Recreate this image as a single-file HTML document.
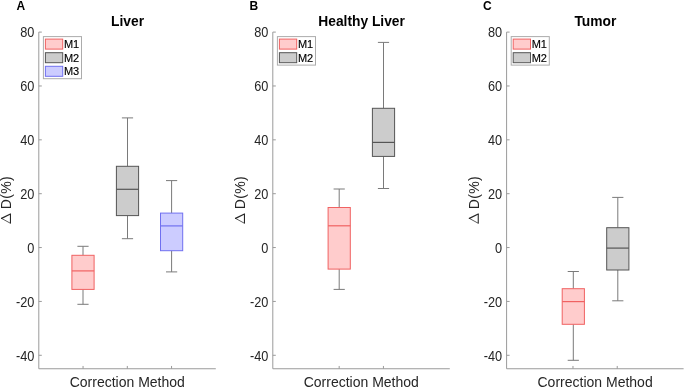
<!DOCTYPE html><html><head><meta charset="utf-8"><style>
html,body{margin:0;padding:0;background:#fff;width:685px;height:388px;overflow:hidden}
svg{display:block}
text{font-family:"Liberation Sans",sans-serif}
svg{will-change:transform}
</style></head><body>
<svg width="685" height="388" viewBox="0 0 685 388">
<rect width="685" height="388" fill="#fff"/>
<line x1="83.00" y1="246.30" x2="83.00" y2="255.30" stroke="#7a7a7a" stroke-width="1"/>
<line x1="83.00" y1="289.40" x2="83.00" y2="304.30" stroke="#7a7a7a" stroke-width="1"/>
<line x1="77.40" y1="246.30" x2="88.60" y2="246.30" stroke="#7a7a7a" stroke-width="1"/>
<line x1="77.40" y1="304.30" x2="88.60" y2="304.30" stroke="#7a7a7a" stroke-width="1"/>
<rect x="71.90" y="255.30" width="22.20" height="34.10" fill="#ffcccc" stroke="#f06262" stroke-width="1"/>
<line x1="71.90" y1="270.90" x2="94.10" y2="270.90" stroke="#f06262" stroke-width="1.2"/>
<line x1="127.50" y1="117.90" x2="127.50" y2="166.30" stroke="#7a7a7a" stroke-width="1"/>
<line x1="127.50" y1="215.60" x2="127.50" y2="238.70" stroke="#7a7a7a" stroke-width="1"/>
<line x1="121.90" y1="117.90" x2="133.10" y2="117.90" stroke="#7a7a7a" stroke-width="1"/>
<line x1="121.90" y1="238.70" x2="133.10" y2="238.70" stroke="#7a7a7a" stroke-width="1"/>
<rect x="116.40" y="166.30" width="22.20" height="49.30" fill="#cccccc" stroke="#555555" stroke-width="1"/>
<line x1="116.40" y1="189.30" x2="138.60" y2="189.30" stroke="#555555" stroke-width="1.2"/>
<line x1="171.60" y1="180.60" x2="171.60" y2="213.10" stroke="#7a7a7a" stroke-width="1"/>
<line x1="171.60" y1="250.70" x2="171.60" y2="271.90" stroke="#7a7a7a" stroke-width="1"/>
<line x1="166.00" y1="180.60" x2="177.20" y2="180.60" stroke="#7a7a7a" stroke-width="1"/>
<line x1="166.00" y1="271.90" x2="177.20" y2="271.90" stroke="#7a7a7a" stroke-width="1"/>
<rect x="160.50" y="213.10" width="22.20" height="37.60" fill="#ccccff" stroke="#7070f0" stroke-width="1"/>
<line x1="160.50" y1="225.90" x2="182.70" y2="225.90" stroke="#7070f0" stroke-width="1.2"/>
<path d="M38.80 32.10 V368.76 H215.80" fill="none" stroke="#9a9a9a" stroke-width="1"/>
<line x1="38.80" y1="32.10" x2="41.80" y2="32.10" stroke="#9a9a9a" stroke-width="1"/>
<text transform="translate(34.30 36.50) scale(0.91 1)" font-size="14" fill="#262626" text-anchor="end">80</text>
<line x1="38.80" y1="85.97" x2="41.80" y2="85.97" stroke="#9a9a9a" stroke-width="1"/>
<text transform="translate(34.30 90.53) scale(0.91 1)" font-size="14" fill="#262626" text-anchor="end">60</text>
<line x1="38.80" y1="139.83" x2="41.80" y2="139.83" stroke="#9a9a9a" stroke-width="1"/>
<text transform="translate(34.30 144.56) scale(0.91 1)" font-size="14" fill="#262626" text-anchor="end">40</text>
<line x1="38.80" y1="193.70" x2="41.80" y2="193.70" stroke="#9a9a9a" stroke-width="1"/>
<text transform="translate(34.30 198.59) scale(0.91 1)" font-size="14" fill="#262626" text-anchor="end">20</text>
<line x1="38.80" y1="247.56" x2="41.80" y2="247.56" stroke="#9a9a9a" stroke-width="1"/>
<text transform="translate(34.30 252.62) scale(0.91 1)" font-size="14" fill="#262626" text-anchor="end">0</text>
<line x1="38.80" y1="301.43" x2="41.80" y2="301.43" stroke="#9a9a9a" stroke-width="1"/>
<text transform="translate(34.30 306.65) scale(0.91 1)" font-size="14" fill="#262626" text-anchor="end">-20</text>
<line x1="38.80" y1="355.29" x2="41.80" y2="355.29" stroke="#9a9a9a" stroke-width="1"/>
<text transform="translate(34.30 360.68) scale(0.91 1)" font-size="14" fill="#262626" text-anchor="end">-40</text>
<line x1="83.05" y1="368.76" x2="83.05" y2="365.96" stroke="#9a9a9a" stroke-width="1"/>
<line x1="127.30" y1="368.76" x2="127.30" y2="365.96" stroke="#9a9a9a" stroke-width="1"/>
<line x1="171.55" y1="368.76" x2="171.55" y2="365.96" stroke="#9a9a9a" stroke-width="1"/>
<text x="127.30" y="387.20" font-size="14" fill="#262626" text-anchor="middle">Correction Method</text>
<text x="127.60" y="26.30" font-size="13.8" font-weight="bold" fill="#000" text-anchor="middle">Liver</text>
<text x="16.60" y="9.90" font-size="12" font-weight="bold" fill="#000">A</text>
<text transform="translate(11.00 209.20) rotate(-90)" font-size="14" letter-spacing="0.3" fill="#262626">D(%)</text>
<path d="M10.45 214.0 V223.3" stroke="#262626" stroke-width="1.1" fill="none"/>
<path d="M1.55 218.4 L10.45 214.0" stroke="#262626" stroke-width="1.2" fill="none" stroke-linecap="round"/>
<path d="M1.55 218.4 L10.45 223.3" stroke="#262626" stroke-width="0.75" fill="none" stroke-linecap="round"/>
<rect x="43.40" y="36.60" width="38.10" height="42.10" fill="#fff" stroke="#acacac" stroke-width="1"/>
<rect x="45.40" y="39.10" width="17.30" height="10.00" fill="#ffcccc" stroke="#f06262" stroke-width="1"/>
<text x="63.90" y="48.00" font-size="11" fill="#000" stroke="#000" stroke-width="0.15">M1</text>
<rect x="45.40" y="52.70" width="17.30" height="10.00" fill="#cccccc" stroke="#555555" stroke-width="1"/>
<text x="63.90" y="61.60" font-size="11" fill="#000" stroke="#000" stroke-width="0.15">M2</text>
<rect x="45.40" y="66.30" width="17.30" height="10.00" fill="#ccccff" stroke="#7070f0" stroke-width="1"/>
<text x="63.90" y="75.20" font-size="11" fill="#000" stroke="#000" stroke-width="0.15">M3</text>
<line x1="339.20" y1="189.00" x2="339.20" y2="207.50" stroke="#7a7a7a" stroke-width="1"/>
<line x1="339.20" y1="269.10" x2="339.20" y2="289.40" stroke="#7a7a7a" stroke-width="1"/>
<line x1="333.60" y1="189.00" x2="344.80" y2="189.00" stroke="#7a7a7a" stroke-width="1"/>
<line x1="333.60" y1="289.40" x2="344.80" y2="289.40" stroke="#7a7a7a" stroke-width="1"/>
<rect x="328.10" y="207.50" width="22.20" height="61.60" fill="#ffcccc" stroke="#f06262" stroke-width="1"/>
<line x1="328.10" y1="225.80" x2="350.30" y2="225.80" stroke="#f06262" stroke-width="1.2"/>
<line x1="383.50" y1="42.40" x2="383.50" y2="108.30" stroke="#7a7a7a" stroke-width="1"/>
<line x1="383.50" y1="156.40" x2="383.50" y2="188.50" stroke="#7a7a7a" stroke-width="1"/>
<line x1="377.90" y1="42.40" x2="389.10" y2="42.40" stroke="#7a7a7a" stroke-width="1"/>
<line x1="377.90" y1="188.50" x2="389.10" y2="188.50" stroke="#7a7a7a" stroke-width="1"/>
<rect x="372.40" y="108.30" width="22.20" height="48.10" fill="#cccccc" stroke="#555555" stroke-width="1"/>
<line x1="372.40" y1="142.40" x2="394.60" y2="142.40" stroke="#555555" stroke-width="1.2"/>
<path d="M272.80 32.10 V368.76 H449.80" fill="none" stroke="#9a9a9a" stroke-width="1"/>
<line x1="272.80" y1="32.10" x2="275.80" y2="32.10" stroke="#9a9a9a" stroke-width="1"/>
<text transform="translate(268.30 36.50) scale(0.91 1)" font-size="14" fill="#262626" text-anchor="end">80</text>
<line x1="272.80" y1="85.97" x2="275.80" y2="85.97" stroke="#9a9a9a" stroke-width="1"/>
<text transform="translate(268.30 90.53) scale(0.91 1)" font-size="14" fill="#262626" text-anchor="end">60</text>
<line x1="272.80" y1="139.83" x2="275.80" y2="139.83" stroke="#9a9a9a" stroke-width="1"/>
<text transform="translate(268.30 144.56) scale(0.91 1)" font-size="14" fill="#262626" text-anchor="end">40</text>
<line x1="272.80" y1="193.70" x2="275.80" y2="193.70" stroke="#9a9a9a" stroke-width="1"/>
<text transform="translate(268.30 198.59) scale(0.91 1)" font-size="14" fill="#262626" text-anchor="end">20</text>
<line x1="272.80" y1="247.56" x2="275.80" y2="247.56" stroke="#9a9a9a" stroke-width="1"/>
<text transform="translate(268.30 252.62) scale(0.91 1)" font-size="14" fill="#262626" text-anchor="end">0</text>
<line x1="272.80" y1="301.43" x2="275.80" y2="301.43" stroke="#9a9a9a" stroke-width="1"/>
<text transform="translate(268.30 306.65) scale(0.91 1)" font-size="14" fill="#262626" text-anchor="end">-20</text>
<line x1="272.80" y1="355.29" x2="275.80" y2="355.29" stroke="#9a9a9a" stroke-width="1"/>
<text transform="translate(268.30 360.68) scale(0.91 1)" font-size="14" fill="#262626" text-anchor="end">-40</text>
<line x1="339.18" y1="368.76" x2="339.18" y2="365.96" stroke="#9a9a9a" stroke-width="1"/>
<line x1="383.43" y1="368.76" x2="383.43" y2="365.96" stroke="#9a9a9a" stroke-width="1"/>
<text x="361.30" y="387.20" font-size="14" fill="#262626" text-anchor="middle">Correction Method</text>
<text x="361.60" y="26.30" font-size="13.8" font-weight="bold" fill="#000" text-anchor="middle">Healthy Liver</text>
<text x="249.60" y="9.90" font-size="12" font-weight="bold" fill="#000">B</text>
<text transform="translate(245.00 209.20) rotate(-90)" font-size="14" letter-spacing="0.3" fill="#262626">D(%)</text>
<path d="M244.45 214.0 V223.3" stroke="#262626" stroke-width="1.1" fill="none"/>
<path d="M235.55 218.4 L244.45 214.0" stroke="#262626" stroke-width="1.2" fill="none" stroke-linecap="round"/>
<path d="M235.55 218.4 L244.45 223.3" stroke="#262626" stroke-width="0.75" fill="none" stroke-linecap="round"/>
<rect x="277.40" y="36.60" width="38.10" height="28.50" fill="#fff" stroke="#acacac" stroke-width="1"/>
<rect x="279.40" y="39.10" width="17.30" height="10.00" fill="#ffcccc" stroke="#f06262" stroke-width="1"/>
<text x="297.90" y="48.00" font-size="11" fill="#000" stroke="#000" stroke-width="0.15">M1</text>
<rect x="279.40" y="52.70" width="17.30" height="10.00" fill="#cccccc" stroke="#555555" stroke-width="1"/>
<text x="297.90" y="61.60" font-size="11" fill="#000" stroke="#000" stroke-width="0.15">M2</text>
<line x1="573.30" y1="271.50" x2="573.30" y2="288.70" stroke="#7a7a7a" stroke-width="1"/>
<line x1="573.30" y1="324.30" x2="573.30" y2="360.30" stroke="#7a7a7a" stroke-width="1"/>
<line x1="567.70" y1="271.50" x2="578.90" y2="271.50" stroke="#7a7a7a" stroke-width="1"/>
<line x1="567.70" y1="360.30" x2="578.90" y2="360.30" stroke="#7a7a7a" stroke-width="1"/>
<rect x="562.20" y="288.70" width="22.20" height="35.60" fill="#ffcccc" stroke="#f06262" stroke-width="1"/>
<line x1="562.20" y1="301.60" x2="584.40" y2="301.60" stroke="#f06262" stroke-width="1.2"/>
<line x1="617.80" y1="197.40" x2="617.80" y2="227.70" stroke="#7a7a7a" stroke-width="1"/>
<line x1="617.80" y1="270.00" x2="617.80" y2="300.80" stroke="#7a7a7a" stroke-width="1"/>
<line x1="612.20" y1="197.40" x2="623.40" y2="197.40" stroke="#7a7a7a" stroke-width="1"/>
<line x1="612.20" y1="300.80" x2="623.40" y2="300.80" stroke="#7a7a7a" stroke-width="1"/>
<rect x="606.70" y="227.70" width="22.20" height="42.30" fill="#cccccc" stroke="#555555" stroke-width="1"/>
<line x1="606.70" y1="248.10" x2="628.90" y2="248.10" stroke="#555555" stroke-width="1.2"/>
<path d="M506.60 32.10 V368.76 H683.60" fill="none" stroke="#9a9a9a" stroke-width="1"/>
<line x1="506.60" y1="32.10" x2="509.60" y2="32.10" stroke="#9a9a9a" stroke-width="1"/>
<text transform="translate(502.10 36.50) scale(0.91 1)" font-size="14" fill="#262626" text-anchor="end">80</text>
<line x1="506.60" y1="85.97" x2="509.60" y2="85.97" stroke="#9a9a9a" stroke-width="1"/>
<text transform="translate(502.10 90.53) scale(0.91 1)" font-size="14" fill="#262626" text-anchor="end">60</text>
<line x1="506.60" y1="139.83" x2="509.60" y2="139.83" stroke="#9a9a9a" stroke-width="1"/>
<text transform="translate(502.10 144.56) scale(0.91 1)" font-size="14" fill="#262626" text-anchor="end">40</text>
<line x1="506.60" y1="193.70" x2="509.60" y2="193.70" stroke="#9a9a9a" stroke-width="1"/>
<text transform="translate(502.10 198.59) scale(0.91 1)" font-size="14" fill="#262626" text-anchor="end">20</text>
<line x1="506.60" y1="247.56" x2="509.60" y2="247.56" stroke="#9a9a9a" stroke-width="1"/>
<text transform="translate(502.10 252.62) scale(0.91 1)" font-size="14" fill="#262626" text-anchor="end">0</text>
<line x1="506.60" y1="301.43" x2="509.60" y2="301.43" stroke="#9a9a9a" stroke-width="1"/>
<text transform="translate(502.10 306.65) scale(0.91 1)" font-size="14" fill="#262626" text-anchor="end">-20</text>
<line x1="506.60" y1="355.29" x2="509.60" y2="355.29" stroke="#9a9a9a" stroke-width="1"/>
<text transform="translate(502.10 360.68) scale(0.91 1)" font-size="14" fill="#262626" text-anchor="end">-40</text>
<line x1="572.98" y1="368.76" x2="572.98" y2="365.96" stroke="#9a9a9a" stroke-width="1"/>
<line x1="617.23" y1="368.76" x2="617.23" y2="365.96" stroke="#9a9a9a" stroke-width="1"/>
<text x="595.10" y="387.20" font-size="14" fill="#262626" text-anchor="middle">Correction Method</text>
<text x="595.40" y="26.30" font-size="13.8" font-weight="bold" fill="#000" text-anchor="middle">Tumor</text>
<text x="482.90" y="9.90" font-size="12" font-weight="bold" fill="#000">C</text>
<text transform="translate(478.80 209.20) rotate(-90)" font-size="14" letter-spacing="0.3" fill="#262626">D(%)</text>
<path d="M478.25 214.0 V223.3" stroke="#262626" stroke-width="1.1" fill="none"/>
<path d="M469.35 218.4 L478.25 214.0" stroke="#262626" stroke-width="1.2" fill="none" stroke-linecap="round"/>
<path d="M469.35 218.4 L478.25 223.3" stroke="#262626" stroke-width="0.75" fill="none" stroke-linecap="round"/>
<rect x="511.20" y="36.60" width="38.10" height="28.50" fill="#fff" stroke="#acacac" stroke-width="1"/>
<rect x="513.20" y="39.10" width="17.30" height="10.00" fill="#ffcccc" stroke="#f06262" stroke-width="1"/>
<text x="531.70" y="48.00" font-size="11" fill="#000" stroke="#000" stroke-width="0.15">M1</text>
<rect x="513.20" y="52.70" width="17.30" height="10.00" fill="#cccccc" stroke="#555555" stroke-width="1"/>
<text x="531.70" y="61.60" font-size="11" fill="#000" stroke="#000" stroke-width="0.15">M2</text>
</svg></body></html>
